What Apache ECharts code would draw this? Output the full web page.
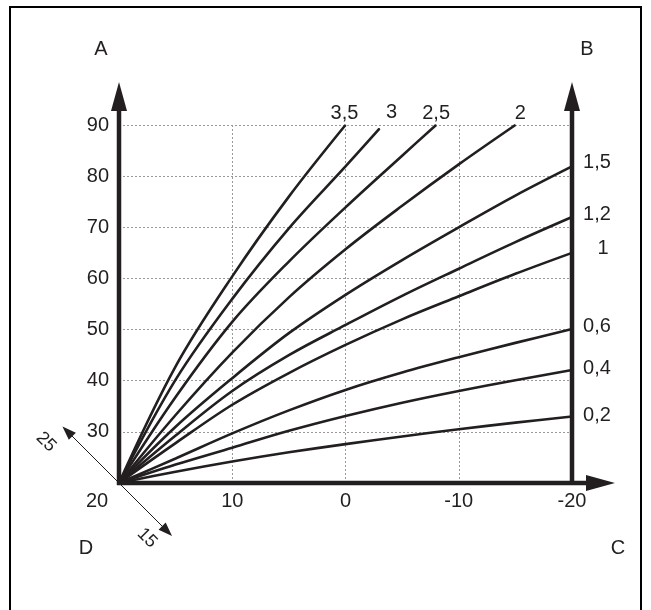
<!DOCTYPE html>
<html><head><meta charset="utf-8">
<script src="https://cdn.jsdelivr.net/npm/echarts@6/dist/echarts.min.js"></script>
<style>html,body{margin:0;padding:0;background:#fff}#c{width:651px;height:610px}</style>
</head><body><div id="c"></div>
<script>
// ---- data ----
const temps = [20, 15, 10, 5, 0, -5, -10, -15, -20];
const curve02 = [20, 22.2, 24.2, 26.0, 27.6, 29.1, 30.5, 31.8, 33.0];
const curve04 = [20, 23.6, 26.9, 30.2, 33.1, 35.7, 38.0, 40.1, 42.1];
const curve06 = [20, 24.8, 29.7, 34.2, 38.2, 41.6, 44.6, 47.4, 50.1];
const curve10 = [20, 27.8, 35.3, 41.5, 47.0, 52.0, 56.5, 60.9, 65.0];
const curve12 = [20, 29.3, 38.0, 45.0, 50.9, 56.6, 61.9, 67.1, 72.0];
const curve15 = [20, 31.0, 40.5, 49.3, 56.8, 63.6, 70.0, 76.2, 81.9];
const temps20 = [20, 15, 10, 5, 0, -5, -10, -15];
const curve20 = [20, 33.3, 45.5, 56.3, 65.7, 74.2, 82.3, 90.0];
const temps25 = [20, 15, 10, 5, 0, -5, -8];
const curve25 = [20, 36.8, 51.5, 63.3, 73.9, 84.0, 90.0];
const temps30 = [20, 15, 10, 5, 0, -3];
const curve30 = [20, 40.2, 56.0, 69.8, 81.9, 89.3];
const temps35 = [20, 15, 10, 5, 0];
const curve35 = [20, 42.8, 60.4, 76.0, 90.0];
const curveNames = ['0,2', '0,4', '0,6', '1', '1,2', '1,5', '2', '2,5', '3', '3,5'];
const xTicks = [20, 10, 0, -10, -20];
const yTicks = [20, 30, 40, 50, 60, 70, 80, 90];
const cornerLabels = ['A', 'B', 'C', 'D'];
const roomTicks = ['25', '15'];
const originLabel = '20';

// ---- styling (not data) ----
const INK = '#231f20';
const FONT = "'Liberation Sans', Arial, sans-serif";
const FS = 20;
const labelOffsets = [[25, -1], [25, -1], [25, -3], [31, -4], [25, -3], [25, -4], [5, -12], [0, -12], [12, -16], [-1, -12]];

const xs = [temps, temps, temps, temps, temps, temps, temps20, temps25, temps30, temps35];
const ys = [curve02, curve04, curve06, curve10, curve12, curve15, curve20, curve25, curve30, curve35];

const series = curveNames.map((name, i) => {
  const data = xs[i].map((t, k) => {
    const item = { value: [t, ys[i][k]] };
    if (k === xs[i].length - 1) {
      item.label = {
        show: true, formatter: name, position: 'inside', offset: labelOffsets[i],
        align: 'center', verticalAlign: 'middle',
        color: INK, fontSize: FS, fontFamily: FONT
      };
    }
    return item;
  });
  return {
    type: 'line', name, data, smooth: 0.35,
    showSymbol: true, symbol: 'circle', symbolSize: 1,
    itemStyle: { color: INK }, lineStyle: { color: INK, width: 2.6 },
    label: { show: false }, emphasis: { disabled: true }, z: 3
  };
});

const chart = echarts.init(document.getElementById('c'), null, { renderer: 'canvas' });
chart.setOption({
  animation: false,
  backgroundColor: '#fff',
  grid: { left: 119, right: 79, top: 125, bottom: 127 },
  xAxis: {
    type: 'value', min: -20, max: 20, interval: 10, inverse: true,
    axisLine: { show: false }, axisTick: { show: false },
    axisLabel: { margin: 8, color: INK, fontSize: FS, fontFamily: FONT,
      formatter: v => (xTicks.indexOf(v) >= 0 && v !== 20 ? String(v) : '') },
    splitLine: { show: true, lineStyle: { color: '#999999', type: [2, 2], width: 1 } }
  },
  yAxis: {
    type: 'value', min: 20, max: 90, interval: 10,
    axisLine: { show: false }, axisTick: { show: false },
    axisLabel: { margin: 10, color: INK, fontSize: FS, fontFamily: FONT,
      formatter: v => (yTicks.indexOf(v) >= 0 && v !== 20 ? String(v) : '') },
    splitLine: { show: true, lineStyle: { color: '#999999', type: [2, 2], width: 1 } }
  },
  series
});

const O = chart.convertToPixel({ gridIndex: 0 }, [20, 20]);
const R = chart.convertToPixel({ gridIndex: 0 }, [-20, 20]);
const T = chart.convertToPixel({ gridIndex: 0 }, [20, 90]);
const tipY = T[1] - 43;
const AW = 8, AL = 29, LW = 4.5;

function txt(x, y, s, extra) {
  return Object.assign({ type: 'text', x, y, z: 10,
    style: { text: s, fill: INK, font: FS + 'px ' + FONT, align: 'center', verticalAlign: 'middle' } }, extra || {});
}
function arrowHead(tx, ty, ux, uy, len, half) {
  const bx = tx - ux * len, by = ty - uy * len;
  return { type: 'polygon', z: 10, shape: { points: [[tx, ty], [bx - uy * half, by + ux * half], [bx + uy * half, by - ux * half]] }, style: { fill: INK } };
}
const s2 = Math.SQRT1_2;
const P1 = [O[0] - 80 * s2, O[1] - 80 * s2];
const P2 = [O[0] + 75 * s2, O[1] + 75 * s2];

chart.setOption({
  graphic: [
    { type: 'rect', z: 1, shape: { x: 10, y: 7, width: 631, height: 640 }, style: { fill: 'none', stroke: '#000', lineWidth: 2 } },
    { type: 'line', z: 9, shape: { x1: O[0], y1: O[1] + 2, x2: O[0], y2: tipY + AL - 2 }, style: { stroke: INK, lineWidth: LW } },
    arrowHead(O[0], tipY, 0, -1, AL, AW),
    { type: 'line', z: 9, shape: { x1: R[0], y1: R[1] + 2, x2: R[0], y2: tipY + AL - 2 }, style: { stroke: INK, lineWidth: LW } },
    arrowHead(R[0], tipY, 0, -1, AL, AW),
    { type: 'line', z: 9, shape: { x1: O[0] - 2, y1: O[1], x2: R[0] + 18, y2: O[1] }, style: { stroke: INK, lineWidth: LW } },
    arrowHead(R[0] + 43, O[1], 1, 0, AL, AW),
    { type: 'line', z: 9, shape: { x1: P1[0] + 8 * s2, y1: P1[1] + 8 * s2, x2: P2[0] - 8 * s2, y2: P2[1] - 8 * s2 }, style: { stroke: INK, lineWidth: 1 } },
    arrowHead(P1[0], P1[1], -s2, -s2, 14, 5),
    arrowHead(P2[0], P2[1], s2, s2, 14, 5),
    txt(O[0] - 18, 49, cornerLabels[0]),
    txt(R[0] + 15, 49, cornerLabels[1]),
    txt(R[0] + 46, 548, cornerLabels[2]),
    txt(O[0] - 33, 548, cornerLabels[3]),
    txt(O[0] - 22, O[1] + 18, originLabel),
    txt(O[0] - 73, O[1] - 41, roomTicks[0], { rotation: -Math.PI / 4, style: { text: roomTicks[0], fill: INK, font: '18px ' + FONT, align: 'center', verticalAlign: 'middle' } }),
    txt(O[0] + 28, O[1] + 55, roomTicks[1], { rotation: -Math.PI / 4, style: { text: roomTicks[1], fill: INK, font: '18px ' + FONT, align: 'center', verticalAlign: 'middle' } })
  ]
});
</script></body></html>
